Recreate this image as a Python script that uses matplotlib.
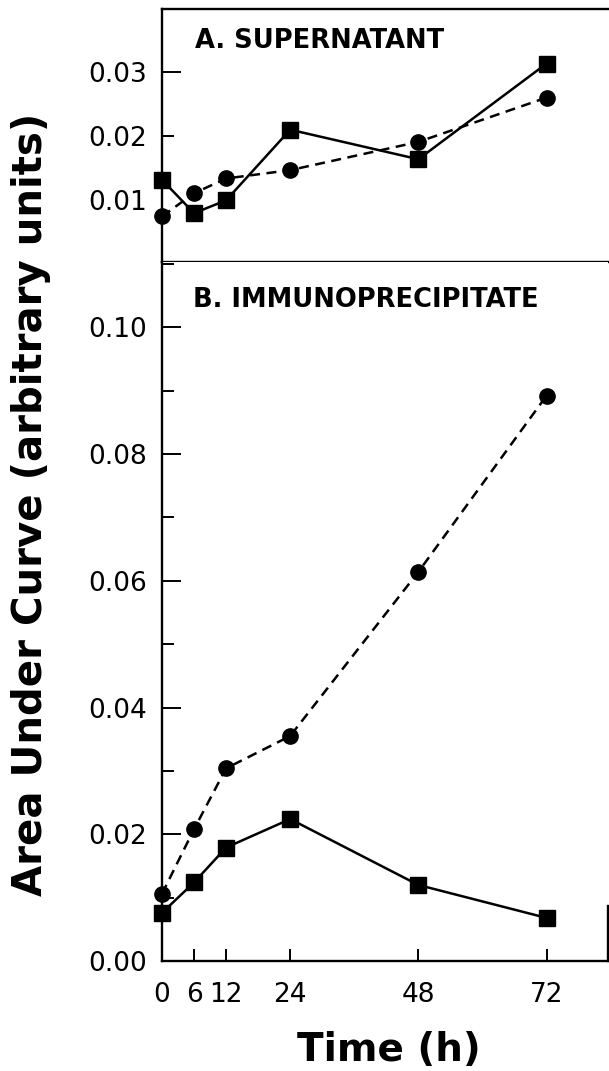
## Area under curve vs time, two stacked panels
import matplotlib.pyplot as plt
from matplotlib.ticker import FixedLocator, MultipleLocator, FormatStrFormatter

## Data
time_h = [0, 6, 12, 24, 48, 72]
time_labels = ['0', '6', '12', '24', '48', '72']

# A. supernatant
sup_square = [0.0132, 0.0080, 0.0100, 0.0210, 0.0164, 0.0313]
sup_circle = [0.0075, 0.0111, 0.0134, 0.0147, 0.0191, 0.0260]

# B. immunoprecipitate
imm_square = [0.0076, 0.0124, 0.0179, 0.0224, 0.0120, 0.0068]
imm_circle = [0.0106, 0.0208, 0.0304, 0.0355, 0.0614, 0.0892]

sup_ticks = [0.01, 0.02, 0.03]
imm_ticks = [0.00, 0.02, 0.04, 0.06, 0.08, 0.10]

plt.rcParams['font.family'] = 'DejaVu Sans'

fig = plt.figure(figsize=(6.09, 10.71), dpi=100)
ax_a = fig.add_axes([0.266, 0.7554, 0.7323, 0.2362])
ax_b = fig.add_axes([0.266, 0.1027, 0.7323, 0.6527])

line_kw = dict(color='black', lw=1.8, clip_on=False, zorder=3)

## Panel A
ax_a.plot(time_h, sup_circle, marker='o', ms=11, ls=(0, (4, 2.6)), **line_kw)
ax_a.plot(time_h, sup_square, marker='s', ms=11, ls='-', **line_kw)
ax_a.set_xlim(0, 83.5)
ax_a.set_ylim(0.0004, 0.0398)
ax_a.yaxis.set_major_locator(FixedLocator(sup_ticks))
ax_a.yaxis.set_major_formatter(FormatStrFormatter('%.2f'))
ax_a.tick_params(axis='x', bottom=False, labelbottom=False)
ax_a.tick_params(axis='y', direction='in', length=13.5, width=1.4,
                 labelsize=19, pad=11)
# tick lengths differ in the original
ax_a.yaxis.get_major_ticks()[0].tick1line.set_markersize(0)
ax_a.yaxis.get_major_ticks()[1].tick1line.set_markersize(8.5)
ax_a.spines['right'].set_visible(False)
for s in ['left', 'top', 'bottom']:
    ax_a.spines[s].set_linewidth(1.7)
ax_a.text(0.075, 0.875, 'A. SUPERNATANT', transform=ax_a.transAxes,
          fontsize=18.5, fontweight='bold', va='center', ha='left')

## Panel B
ax_b.plot(time_h, imm_circle, marker='o', ms=11, ls=(0, (4, 2.6)), **line_kw)
ax_b.plot(time_h, imm_square, marker='s', ms=11, ls='-', **line_kw)
ax_b.set_xlim(0, 83.5)
ax_b.set_ylim(0, 0.1103)
ax_b.yaxis.set_major_locator(FixedLocator(imm_ticks))
ax_b.yaxis.set_minor_locator(MultipleLocator(0.01))
ax_b.yaxis.set_major_formatter(FormatStrFormatter('%.2f'))
ax_b.set_xticks(time_h)
ax_b.set_xticklabels(time_labels)
ax_b.tick_params(axis='y', which='major', direction='in', length=13.5,
                 width=1.4, labelsize=19, pad=11)
ax_b.tick_params(axis='y', which='minor', direction='in', length=8.5, width=1.4)
ax_b.tick_params(axis='x', direction='in', length=9, width=1.4,
                 labelsize=19, pad=15)
ax_b.spines['top'].set_visible(False)
ax_b.spines['right'].set_bounds(0, 0.0087)
for s in ['left', 'right', 'bottom']:
    ax_b.spines[s].set_linewidth(1.7)
ax_b.text(0.07, 0.945, 'B. IMMUNOPRECIPITATE', transform=ax_b.transAxes,
          fontsize=18.5, fontweight='bold', va='center', ha='left')

## Axis titles
fig.text(0.051, 0.529, 'Area Under Curve (arbitrary units)', rotation=90,
         fontsize=29, fontweight='bold', ha='center', va='center')
fig.text(0.639, 0.020, 'Time (h)', fontsize=28, fontweight='bold',
         ha='center', va='center')

plt.savefig('out.png', dpi=100)
